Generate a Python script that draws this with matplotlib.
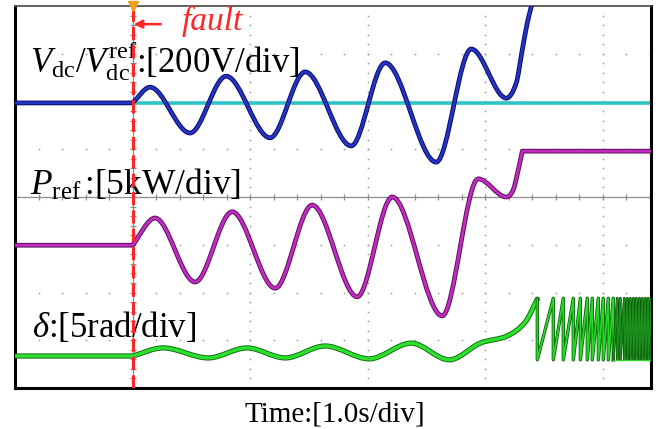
import numpy as np
import matplotlib.pyplot as plt
import matplotlib.patheffects as pe
from matplotlib.path import Path
from matplotlib.patches import PathPatch

plt.rcParams['font.family'] = 'Liberation Serif'
plt.rcParams['mathtext.fontset'] = 'custom'
plt.rcParams['mathtext.rm'] = 'Liberation Serif'
plt.rcParams['mathtext.it'] = 'Liberation Serif:italic'

# time axis in s (1.0 s/div), trace values in screen divisions (0 = bottom, 8 = top)
t_end = 5.41
t_fault = 1.0

# Vdc reference (cyan) and measured Vdc (blue)
vdc_ref = 5.97
vdc_pre = 5.97
vdc_t = [1.0, 1.149, 1.489, 1.796, 2.170, 2.468, 2.860, 3.149, 3.583, 3.881,
         4.179, 4.264, 4.315, 4.357, 4.391, 4.426]
vdc_v = [5.97, 6.30, 5.34, 6.53, 5.24, 6.62, 5.07, 6.81, 4.73, 7.10,
         6.07, 6.39, 7.08, 7.64, 7.98, 8.38]

# Pref (magenta)
pref_pre = 2.99
pref_t = [1.0, 1.191, 1.532, 1.847, 2.213, 2.528, 2.911, 3.209, 3.634, 3.940,
          4.179, 4.238, 4.281, 4.315]
pref_v = [2.99, 3.56, 2.22, 3.69, 2.09, 3.83, 1.91, 4.00, 1.51, 4.38,
          4.00, 4.15, 4.57, 4.96]
pref_final = 4.96

# power angle delta (green)
delta_pre = 0.67
delta_t = [1.0, 1.260, 1.643, 1.974, 2.298, 2.638, 3.013, 3.370, 3.694,
           3.957, 4.187, 4.340, 4.443]
delta_v = [0.67, 0.84, 0.63, 0.84, 0.63, 0.88, 0.61, 0.94, 0.59,
           0.94, 1.09, 1.38, 1.86]
delta_top = 1.88
delta_bottom = 0.59
delta_wrap_t = [4.443, 4.579, 4.664, 4.749, 4.809, 4.868, 4.911, 4.962, 5.004,
                5.047, 5.089, 5.123, 5.149, 5.183, 5.209, 5.234, 5.260, 5.285,
                5.311, 5.336, 5.362, 5.387, 5.413]
dense_from = 5.089


def smooth_segment(ts, vs):
    # cubic bezier pieces through the read points, flat at peaks/troughs
    x = np.asarray(ts, float)
    y = np.asarray(vs, float)
    n = len(x)
    m = np.zeros(n)
    for i in range(n):
        if i == 0:
            m[i] = (y[1] - y[0]) / (x[1] - x[0])
        elif i == n - 1:
            m[i] = (y[-1] - y[-2]) / (x[-1] - x[-2])
        elif (y[i] - y[i-1]) * (y[i+1] - y[i]) <= 0:
            m[i] = 0.0
        else:
            m[i] = (y[i+1] - y[i-1]) / (x[i+1] - x[i-1])
    verts = []
    for i in range(n - 1):
        h = x[i+1] - x[i]
        verts += [(x[i] + h/3, y[i] + m[i]*h/3),
                  (x[i+1] - h/3, y[i+1] - m[i+1]*h/3),
                  (x[i+1], y[i+1])]
    return verts, [Path.CURVE4] * len(verts)


def trace_path(pre, ts, vs, tail=()):
    verts = [(0.0, pre), (ts[0], pre)]
    codes = [Path.MOVETO, Path.LINETO]
    v, c = smooth_segment(ts, vs)
    verts += v
    codes += c
    for p in tail:
        verts.append(p)
        codes.append(Path.LINETO)
    return Path(verts, codes)


fig = plt.figure(figsize=(6.68, 4.29), dpi=100)
ax = fig.add_axes([15/668, 1 - 388/429, 636/668, 382/429])
ax.set_xlim(0, t_end)
ax.set_ylim(0, 8)
ax.set_xticks([])
ax.set_yticks([])
for s in ax.spines.values():
    s.set_linewidth(2.2)
    s.set_color('black')
ax.spines['top'].set_linewidth(1.3)
ax.spines['top'].set_color('#555555')

# scope graticule
gcol = '#9a9a9a'
minor_t = np.arange(0.2, t_end, 0.2)
minor_v = np.arange(0.2, 8, 0.2)
for lev in [1, 2, 3, 5, 6, 7]:
    ax.plot(minor_t, np.full(len(minor_t), lev), ls='none', marker='s', ms=1.1,
            mew=0, color=gcol, zorder=1)
for tt in [2, 3, 4, 5]:
    ax.plot(np.full(len(minor_v), tt), minor_v, ls='none', marker='s', ms=1.1,
            mew=0, color=gcol, zorder=1)
ax.axhline(4, color='#8c8c8c', lw=0.9, zorder=1)
ax.axvline(t_fault, color='#8c8c8c', lw=0.9, zorder=1)
ax.plot(minor_t, np.full(len(minor_t), 4), ls='none', marker='|', ms=5,
        mew=0.9, color='#8c8c8c', zorder=1)
ax.plot(np.full(len(minor_v), t_fault), minor_v, ls='none', marker='_', ms=5,
        mew=0.9, color='#8c8c8c', zorder=1)

# traces
ax.axhline(vdc_ref, color='#2fc4c6', lw=2.6, zorder=2)

def add_trace(path, core, dark, lw=2.0, z=3):
    patch = PathPatch(path, fill=False, edgecolor=core, lw=lw, zorder=z,
                      capstyle='round', joinstyle='round',
                      path_effects=[pe.Stroke(linewidth=lw + 1.4, foreground=dark),
                                    pe.Normal()])
    ax.add_patch(patch)

add_trace(trace_path(vdc_pre, vdc_t, vdc_v), '#2434c0', '#0c0c70')
add_trace(trace_path(pref_pre, pref_t, pref_v, [(t_end, pref_final)]),
          '#c02cc0', '#5c105c')
add_trace(trace_path(delta_pre, delta_t, delta_v), '#2ee02e', '#127012', lw=2.4)

# pole slipping: delta wraps around, drawn as a sawtooth between the wrap instants
sparse_x, sparse_y = [delta_t[-1], delta_wrap_t[0]], [delta_v[-1], delta_bottom]
dense_x, dense_y = [], []
for w in delta_wrap_t[1:]:
    if w <= dense_from:
        sparse_x += [w, w]
        sparse_y += [delta_top, delta_bottom]
    else:
        if not dense_x:
            dense_x, dense_y = [sparse_x[-1]], [sparse_y[-1]]
        dense_x += [w, w]
        dense_y += [delta_top, delta_bottom]
ax.plot(sparse_x, sparse_y, color='#28d628', lw=1.3, zorder=3,
        path_effects=[pe.Stroke(linewidth=2.4, foreground='#0b5e0b'), pe.Normal()])
ax.plot(dense_x, dense_y, color='#1c8e1c', lw=1.1, zorder=3,
        path_effects=[pe.Stroke(linewidth=2.0, foreground='#0a540a'), pe.Normal()])
ax.plot(dense_x[::2], dense_y[::2], color='#2ad82a', lw=0.8, zorder=3)

# fault marker
ax.axvline(t_fault, color='#ff2626', lw=2.2, ls=(0, (4.3, 1.7)), zorder=5)
ax.plot([t_fault], [8.0], marker='v', ms=7, color='#f0a020', clip_on=False, zorder=6)
ax.annotate('', xy=(1.01, 7.62), xytext=(1.24, 7.62),
            arrowprops=dict(arrowstyle='-|>', color='#ff2626', lw=1.8,
                            mutation_scale=12, shrinkA=0, shrinkB=0))
ax.text(1.421, 7.49, 'fault', color='#ff2626', fontsize=24, style='italic',
        va='baseline', ha='left', zorder=6)

# labels
ax.text(0.128, 6.60, r'$V_{\rm dc}/V_{\rm dc}^{\rm ref}$:[200V/div]', fontsize=25,
        va='baseline', ha='left', zorder=4)
ax.text(0.128, 4.04, r'$P_{\rm ref}\,$:[5kW/div]', fontsize=25.5,
        va='baseline', ha='left', zorder=4)
ax.text(0.145, 1.07, r'$\delta$:[5rad/div]', fontsize=25,
        va='baseline', ha='left', zorder=4)
fig.text(334.5/668, 1 - 422/429, 'Time:[1.0s/div]', fontsize=21,
         va='baseline', ha='center')

fig.savefig('out.png', dpi=100)
